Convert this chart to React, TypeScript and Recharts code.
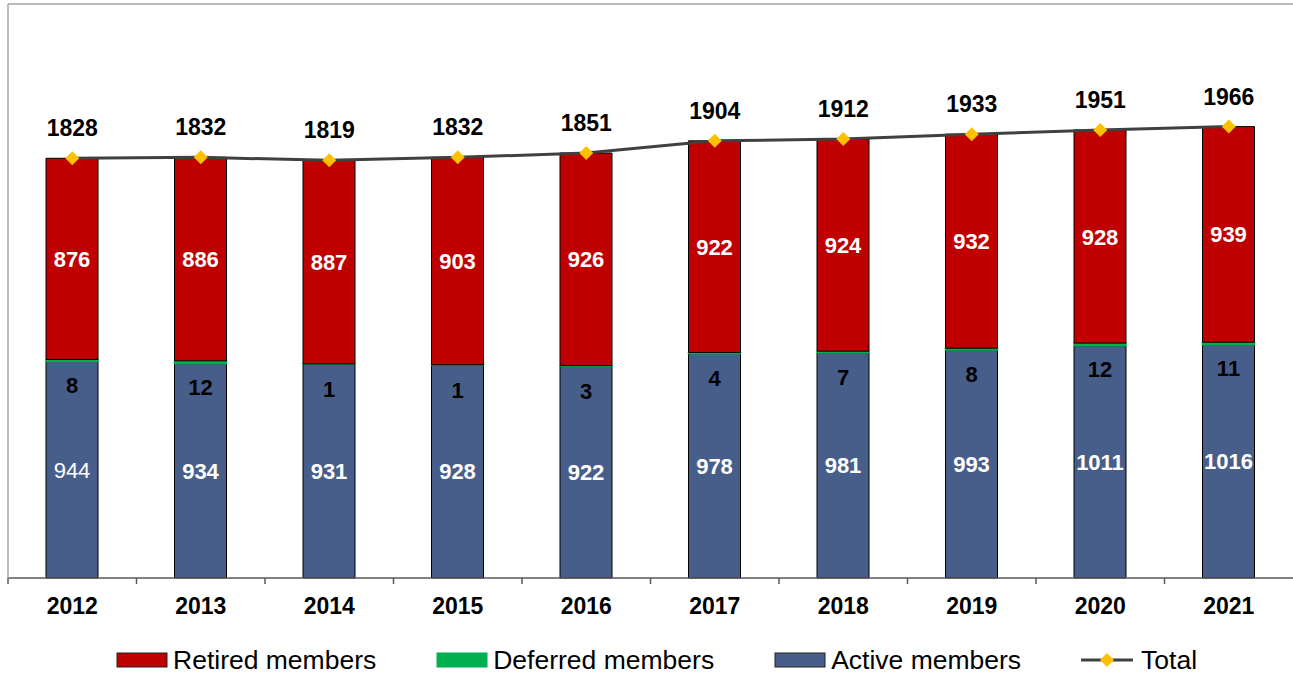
import React from 'react';
import { ComposedChart, Bar, Line, XAxis, YAxis, LabelList } from 'recharts';

const years = ['2012', '2013', '2014', '2015', '2016', '2017', '2018', '2019', '2020', '2021'];
const activeMembers = [944, 934, 931, 928, 922, 978, 981, 993, 1011, 1016];
const deferredMembers = [8, 12, 1, 1, 3, 4, 7, 8, 12, 11];
const retiredMembers = [876, 886, 887, 903, 926, 922, 924, 932, 928, 939];
const totalMembers = [1828, 1832, 1819, 1832, 1851, 1904, 1912, 1933, 1951, 1966];
const yDomain = [0, 2500];

const data = years.map((y, i) => ({
  year: y,
  active: activeMembers[i],
  deferred: deferredMembers[i],
  retired: retiredMembers[i],
  total: totalMembers[i],
}));

const W = 1293;
const H = 675;
const MARGIN = { top: 3, right: 0, left: 7, bottom: 57 };
const PLOT_LEFT = 8;
const BAND = (W - PLOT_LEFT - MARGIN.right) / years.length;
const FONT = '"Liberation Sans", Arial, sans-serif';

const RED = '#C00000';
const GREEN = '#00B050';
const BLUE = '#475E8B';
const LINE = '#404040';
const GOLD = '#FFC000';
const BORDER = '#A6A6A6';

const AxisTick = (props: any) => {
  const { x, y, payload } = props;
  const left = x - BAND / 2;
  return (
    <g>
      <line x1={left} x2={left} y1={y - 6} y2={y} stroke="#595959" strokeWidth={1.5} />
      <text x={x} y={y + 30} textAnchor="middle" fontFamily={FONT} fontWeight="bold" fontSize={23} fill="#000">
        {payload.value}
      </text>
    </g>
  );
};

const Diamond = (props: any) => {
  const { cx, cy } = props;
  if (cx == null || cy == null) return null;
  const r = 7;
  return <path d={`M${cx},${cy - r} L${cx + r},${cy} L${cx},${cy + r} L${cx - r},${cy} Z`} fill={GOLD} stroke="none" />;
};

const centerLabel = (color: string, boldFirst: boolean) => (props: any) => {
  const { x, y, width, height, value, index } = props;
  const bold = boldFirst || index !== 0;
  return (
    <text
      x={x + width / 2}
      y={y + height / 2 + 8}
      textAnchor="middle"
      fontFamily={FONT}
      fontWeight={bold ? 'bold' : 'normal'}
      fontSize={22}
      fill={color}
    >
      {value}
    </text>
  );
};

const deferredLabel = (props: any) => {
  const { x, y, width, height, value } = props;
  return (
    <text x={x + width / 2} y={y + height / 2 + 33} textAnchor="middle" fontFamily={FONT} fontWeight="bold" fontSize={22} fill="#000">
      {value}
    </text>
  );
};

const totalLabel = (props: any) => {
  const { x, y, value } = props;
  return (
    <text x={x} y={y - 22} textAnchor="middle" fontFamily={FONT} fontWeight="bold" fontSize={23} fill="#000">
      {value}
    </text>
  );
};

const legendItems = [
  { name: 'Retired members', type: 'rect', color: RED, border: '#222' },
  { name: 'Deferred members', type: 'rect', color: GREEN, border: GREEN },
  { name: 'Active members', type: 'rect', color: BLUE, border: '#222' },
  { name: 'Total', type: 'line', color: LINE, border: LINE },
];

const LegendBox = () => (
  <div
    style={{
      position: 'absolute',
      left: 116,
      top: 645,
      display: 'flex',
      alignItems: 'center',
      gap: 60,
      fontFamily: FONT,
      fontSize: 26.5,
      color: '#000',
      lineHeight: '30px',
      whiteSpace: 'nowrap',
    }}
  >
    {legendItems.map((it) => (
      <div key={it.name} style={{ display: 'flex', alignItems: 'center' }}>
        {it.type === 'rect' ? (
          <svg width={52} height={16} style={{ display: 'block' }}>
            <rect x={1} y={1} width={50} height={14} fill={it.color} stroke={it.border} strokeWidth={1} />
          </svg>
        ) : (
          <svg width={52} height={16} style={{ display: 'block' }}>
            <line x1={0} x2={52} y1={8} y2={8} stroke={LINE} strokeWidth={3} />
            <path d="M26,1 L33,8 L26,15 L19,8 Z" fill={GOLD} />
          </svg>
        )}
        <span style={{ marginLeft: it.type === 'rect' ? 5 : 8 }}>{it.name}</span>
      </div>
    ))}
  </div>
);

export default function App() {
  return (
    <div style={{ position: 'absolute', left: 0, top: 0, width: W, height: H, background: '#fff' }}>
      <ComposedChart width={W} height={H} data={data} margin={MARGIN} barSize={52}>
        <XAxis
          dataKey="year"
          height={40}
          axisLine={{ stroke: '#595959', strokeWidth: 1.5 }}
          tickLine={false}
          tickSize={6}
          tickMargin={0}
          tick={<AxisTick />}
          interval={0}
        />
        <XAxis
          xAxisId="top"
          dataKey="year"
          orientation="top"
          height={1}
          tick={false}
          tickLine={false}
          axisLine={{ stroke: BORDER, strokeWidth: 1.5 }}
        />
        <YAxis
          domain={yDomain}
          width={1}
          tick={false}
          tickLine={false}
          axisLine={{ stroke: BORDER, strokeWidth: 1.5 }}
        />
        <Bar dataKey="active" stackId="s" fill={BLUE} stroke="#000" strokeWidth={1} isAnimationActive={false}>
          <LabelList dataKey="active" content={centerLabel('#fff', false)} />
        </Bar>
        <Bar dataKey="deferred" stackId="s" fill={GREEN} stroke={GREEN} strokeWidth={1.5} isAnimationActive={false}>
          <LabelList dataKey="deferred" content={deferredLabel} />
        </Bar>
        <Bar dataKey="retired" stackId="s" fill={RED} stroke="#000" strokeWidth={1} isAnimationActive={false}>
          <LabelList dataKey="retired" content={centerLabel('#fff', true)} />
        </Bar>
        <Line
          dataKey="total"
          stroke={LINE}
          strokeWidth={3}
          dot={<Diamond />}
          activeDot={false}
          isAnimationActive={false}
        >
          <LabelList dataKey="total" content={totalLabel} />
        </Line>
      </ComposedChart>
      <LegendBox />
    </div>
  );
}
